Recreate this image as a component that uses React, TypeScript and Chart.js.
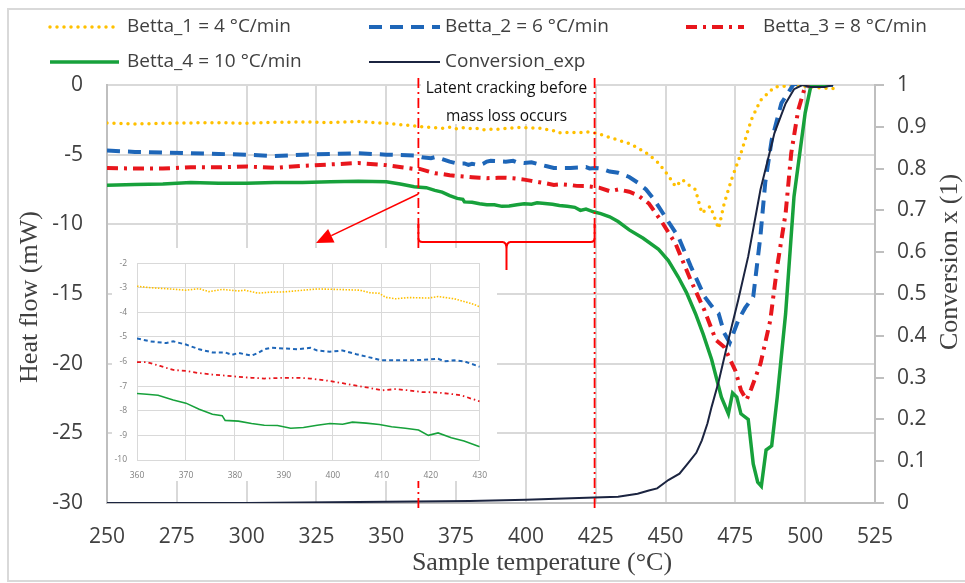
import React, { useEffect, useRef } from 'react';
import { Chart, registerables } from 'chart.js';

Chart.register(...registerables);

// ---------------- DATA ----------------
const seriesLabels = [
  'Betta_1 = 4 °C/min',
  'Betta_2 = 6 °C/min',
  'Betta_3 = 8 °C/min',
  'Betta_4 = 10 °C/min',
  'Conversion_exp',
];

const betta1T = [250, 260, 270, 280, 290, 300, 310, 320, 330, 340, 350,
  360, 362.7, 366, 370, 372.7, 374.7, 377.4, 380.7, 382, 384.7, 387.4, 390, 394, 396.8, 400.8, 405.5, 407.5, 409.5, 410.8, 412.8, 415.5, 419.5, 421.5, 424.8, 428.2, 430,
  433, 437, 440, 444, 447.5, 451, 453.6, 456, 458.5, 460.7, 463, 466, 469, 471, 473.6, 477, 480.7, 484, 489, 495, 500, 505, 510];
const betta1V = [-2.73, -2.8, -2.75, -2.72, -2.7, -2.75, -2.68, -2.65, -2.7, -2.62, -2.75,
  -2.94, -3.0, -3.04, -3.1, -3.04, -3.16, -3.07, -3.13, -3.1, -3.22, -3.18, -3.17, -3.1, -3.05, -3.07, -3.1, -3.2, -3.23, -3.39, -3.45, -3.4, -3.42, -3.36, -3.45, -3.64, -3.77,
  -3.95, -4.2, -4.5, -5.0, -5.6, -6.5, -7.3, -6.8, -7.2, -7.5, -9.2, -8.7, -10.3, -8.5, -6.8, -4.9, -2.5, -1.1, -0.15, -0.05, -0.1, -0.2, -0.25];

const betta2T = [250, 260, 270, 280, 290, 300, 310, 320, 330, 340, 350,
  360, 362.7, 366, 367.4, 370, 372.7, 375.4, 378, 379.4, 380.7, 383.4, 384.7, 386, 387.4, 390, 392.8, 395.4, 396.8, 399.4, 402, 404.8, 407.5, 410, 412.8, 416, 419.5, 421.5, 422.8, 424.8, 426.8, 430,
  433, 437, 440, 443, 446, 450, 454.6, 459, 464, 467, 469, 471, 473, 476, 478.5, 481.4, 484, 485.7, 488, 491.5, 496, 500, 505, 510];
const betta2V = [-4.7, -4.8, -4.85, -4.9, -4.95, -5.0, -5.1, -5.0, -4.95, -4.9, -5.0,
  -5.06, -5.18, -5.25, -5.18, -5.31, -5.5, -5.63, -5.63, -5.73, -5.65, -5.76, -5.65, -5.5, -5.44, -5.47, -5.5, -5.44, -5.55, -5.6, -5.55, -5.7, -5.83, -5.95, -5.95, -5.95, -5.92, -5.89, -5.99, -5.95, -5.99, -6.21,
  -6.3, -6.6, -7.0, -7.5, -8.25, -9.5, -10.9, -13.0, -15.2, -16.0, -16.4, -17.8, -18.5, -16.9, -16.0, -15.2, -10.8, -7.0, -3.95, -1.3, 0.1, -0.05, 0.05, 0];

const betta3T = [250, 260, 270, 280, 290, 300, 310, 320, 330, 340, 350,
  360, 362, 364.7, 367.4, 370, 372.7, 375.4, 378, 380.7, 383.4, 386, 390, 392.8, 395.4, 399.4, 402, 404.8, 407.5, 410, 412.8, 415.5, 418.2, 420.8, 423.5, 426.2, 430,
  433, 437, 440, 444, 448.6, 453.6, 459, 464, 468, 471, 475, 477, 479, 480.7, 484, 487.5, 490, 493, 495, 497.5, 500, 505, 508];
const betta3V = [-5.95, -6.0, -6.0, -5.9, -5.9, -5.85, -5.95, -5.8, -5.7, -5.6, -5.75,
  -6.02, -6.02, -6.18, -6.34, -6.38, -6.47, -6.53, -6.57, -6.62, -6.66, -6.69, -6.66, -6.66, -6.69, -6.79, -6.88, -6.98, -7.07, -7.17, -7.12, -7.17, -7.24, -7.25, -7.3, -7.37, -7.62,
  -7.5, -7.66, -7.9, -8.5, -9.8, -11.4, -14.0, -16.2, -18.3, -18.8, -20.5, -21.9, -22.6, -21.8, -20.0, -16.9, -13.0, -9.2, -4.9, -1.8, -0.1, 0, 0];

const betta4T = [250, 260, 270, 280, 290, 300, 310, 320, 330, 340, 350, 355,
  360, 362, 364.3, 367.4, 370, 372.7, 375.4, 377.4, 378, 380.7, 383.4, 386, 388.7, 391.4, 394, 396.8, 399.4, 402, 404, 406.8, 409.5, 412, 414.8, 417.5, 419.5, 421.5, 424.2, 426.8, 430,
  433, 437, 442, 447.5, 451, 454.6, 457.5, 460.7, 463.5, 466.5, 470, 472.5, 474, 475.5, 477, 479.6, 481.4, 483, 484.3, 486, 488, 490, 493, 496, 500, 502, 505, 508];
const betta4V = [-7.2, -7.15, -7.1, -7.0, -7.05, -7.05, -7.0, -7.0, -6.95, -6.9, -6.95, -7.1,
  -7.3, -7.33, -7.37, -7.56, -7.69, -7.94, -8.14, -8.2, -8.39, -8.42, -8.52, -8.59, -8.6, -8.71, -8.68, -8.59, -8.52, -8.55, -8.46, -8.5, -8.56, -8.65, -8.71, -8.78, -9.0, -8.9, -9.1, -9.23, -9.46,
  -9.8, -10.4, -11.0, -11.8, -12.6, -13.8, -14.9, -16.4, -17.9, -19.7, -22.4, -23.6, -22.1, -22.4, -23.6, -24.0, -27.2, -28.5, -28.8, -26.2, -25.9, -22.4, -16.4, -8.0, -2.0, -0.1, 0, 0];

const conversionT = [250, 300, 350, 380, 400, 419, 433, 440, 444, 447, 451, 455, 458, 461, 463, 465, 466.5, 469, 472.5, 476, 479.6, 484, 489, 493, 496, 499, 502, 507, 510];
const conversionV = [0, 0, 0.003, 0.005, 0.008, 0.012, 0.015, 0.022, 0.03, 0.035, 0.055, 0.07, 0.095, 0.12, 0.15, 0.19, 0.23, 0.29, 0.39, 0.485, 0.59, 0.75, 0.885, 0.956, 0.99, 1.0, 0.995, 0.995, 1.0];

const markerT = [361.5, 424.6];
const noteLines = ['Latent cracking before', 'mass loss occurs'];
const xTitle = 'Sample temperature (°C)';
const yTitle = 'Heat flow (mW)';
const y1Title = 'Conversion x (1)';

// ---------------- STYLES ----------------
const C_YEL = '#FFC000';
const C_BLU = '#1E66B8';
const C_RED = '#E8161C';
const C_GRN = '#17A13B';
const C_NAV = '#1B2440';
const TXT = '#404040';
const GRID = '#D9D9D9';
const AXIS = '#BFBFBF';
const SANS = "'Open Sans', 'DejaVu Sans', sans-serif";
const SERIF = "'Liberation Serif', 'DejaVu Serif', serif";

const pts = (T: number[], V: number[], lo = -Infinity, hi = Infinity) =>
  T.map((t, i) => ({ x: t, y: V[i] })).filter((p) => p.x >= lo && p.x <= hi);

const mainStyles = [
  { borderColor: C_YEL, borderWidth: 3.5, borderDash: [0, 7], borderCapStyle: 'round' },
  { borderColor: C_BLU, borderWidth: 4, borderDash: [13, 8], borderCapStyle: 'butt' },
  { borderColor: C_RED, borderWidth: 4, borderDash: [11, 6, 3, 6], borderCapStyle: 'butt' },
  { borderColor: C_GRN, borderWidth: 3.5, borderDash: [], borderCapStyle: 'butt' },
  { borderColor: C_NAV, borderWidth: 2, borderDash: [], borderCapStyle: 'butt' },
];

const legendPos = [
  { x1: 50, x2: 116, y: 27, tx: 127 },
  { x1: 369, x2: 440, y: 27, tx: 445 },
  { x1: 686, x2: 744, y: 27, tx: 763 },
  { x1: 50, x2: 119, y: 62, tx: 127 },
  { x1: 369, x2: 440, y: 62, tx: 445 },
];

const decorPlugin = {
  id: 'decor',
  beforeDatasetsDraw(chart: any) {
    const ctx = chart.ctx;
    ctx.save();
    ctx.fillStyle = '#ffffff';
    ctx.fillRect(421, 76, 173, 48);
    ctx.restore();
  },
  afterDatasetsDraw(chart: any) {
    const ctx = chart.ctx;
    const xs = chart.scales.x;
    ctx.save();
    // vertical dash-dot markers
    ctx.strokeStyle = '#FF0000';
    ctx.lineWidth = 1.8;
    ctx.setLineDash([10, 4, 2, 4]);
    markerT.forEach((t) => {
      const px = xs.getPixelForValue(t);
      ctx.beginPath();
      ctx.moveTo(px, 78);
      ctx.lineTo(px, 511);
      ctx.stroke();
    });
    ctx.setLineDash([]);
    // brace
    const l = xs.getPixelForValue(markerT[0]);
    const r = xs.getPixelForValue(markerT[1]);
    const m = (l + r) / 2;
    ctx.lineWidth = 2;
    ctx.beginPath();
    ctx.moveTo(l, 224);
    ctx.lineTo(l, 238);
    ctx.quadraticCurveTo(l, 242, l + 4, 242);
    ctx.lineTo(m - 4, 242);
    ctx.quadraticCurveTo(m, 242, m, 249);
    ctx.lineTo(m, 270);
    ctx.moveTo(m, 249);
    ctx.quadraticCurveTo(m, 242, m + 4, 242);
    ctx.lineTo(r - 4, 242);
    ctx.quadraticCurveTo(r, 242, r, 238);
    ctx.lineTo(r, 224);
    ctx.stroke();
    // arrow
    const sx = l, sy = 194, ex = 316, ey = 243;
    const ang = Math.atan2(ey - sy, ex - sx);
    const hl = 17, hw = 7.5;
    const bx = ex - hl * Math.cos(ang), by = ey - hl * Math.sin(ang);
    ctx.lineWidth = 1.5;
    ctx.beginPath();
    ctx.moveTo(sx, sy);
    ctx.lineTo(bx, by);
    ctx.stroke();
    ctx.fillStyle = '#FF0000';
    ctx.beginPath();
    ctx.moveTo(ex, ey);
    ctx.lineTo(bx + hw * Math.sin(ang), by - hw * Math.cos(ang));
    ctx.lineTo(bx - hw * Math.sin(ang), by + hw * Math.cos(ang));
    ctx.closePath();
    ctx.fill();
    // note text
    ctx.fillStyle = '#111111';
    ctx.font = `15.5px ${SANS}`;
    ctx.textAlign = 'center';
    ctx.textBaseline = 'middle';
    ctx.fillText(noteLines[0], m, 89);
    ctx.fillText(noteLines[1], m, 117);
    ctx.restore();
  },
  afterDraw(chart: any) {
    const ctx = chart.ctx;
    ctx.save();
    // legend
    chart.data.datasets.forEach((ds: any, i: number) => {
      const p = legendPos[i];
      ctx.strokeStyle = ds.borderColor;
      ctx.lineWidth = ds.borderWidth;
      ctx.setLineDash(ds.borderDash || []);
      ctx.lineCap = ds.borderCapStyle || 'butt';
      ctx.beginPath();
      ctx.moveTo(p.x1, p.y);
      ctx.lineTo(p.x2, p.y);
      ctx.stroke();
      ctx.setLineDash([]);
      ctx.lineCap = 'butt';
      ctx.fillStyle = TXT;
      ctx.font = `19px ${SANS}`;
      ctx.textAlign = 'left';
      ctx.textBaseline = 'middle';
      ctx.fillText(ds.label, p.tx, p.y);
    });
    // axis titles
    ctx.fillStyle = TXT;
    ctx.font = `26px ${SERIF}`;
    ctx.textAlign = 'center';
    ctx.textBaseline = 'middle';
    ctx.fillText(xTitle, 542, 563);
    ctx.save();
    ctx.translate(30, 297);
    ctx.rotate(-Math.PI / 2);
    ctx.fillText(yTitle, 0, 0);
    ctx.restore();
    ctx.save();
    ctx.translate(950, 262);
    ctx.rotate(-Math.PI / 2);
    ctx.fillText(y1Title, 0, 0);
    ctx.restore();
    // outer frame
    ctx.strokeStyle = GRID;
    ctx.lineWidth = 2;
    ctx.beginPath();
    ctx.moveTo(968, 9);
    ctx.lineTo(8, 9);
    ctx.lineTo(8, 581);
    ctx.lineTo(968, 581);
    ctx.stroke();
    ctx.restore();
  },
};

const tickFont = { family: SANS, size: 21 };

export default function App() {
  const mainRef = useRef<HTMLCanvasElement | null>(null);
  const insetRef = useRef<HTMLCanvasElement | null>(null);

  useEffect(() => {
    const seriesT = [betta1T, betta2T, betta3T, betta4T, conversionT];
    const seriesV = [betta1V, betta2V, betta3V, betta4V, conversionV];

    const mainDatasets = seriesT.map((T, i) => ({
      label: seriesLabels[i],
      data: pts(T, seriesV[i]),
      ...mainStyles[i],
      pointRadius: 0,
      tension: 0,
      fill: false,
      yAxisID: i === 4 ? 'y1' : 'y',
      order: 5 - i,
    }));

    const main = new Chart(mainRef.current as HTMLCanvasElement, {
      type: 'line',
      data: { datasets: mainDatasets as any },
      options: {
        animation: false,
        responsive: false,
        events: [],
        layout: { padding: { top: 85, left: 0, right: 0, bottom: 0 } },
        plugins: { legend: { display: false }, tooltip: { enabled: false } },
        scales: {
          x: {
            type: 'linear', min: 250, max: 525,
            ticks: { stepSize: 25, padding: 21, color: TXT, font: tickFont },
            grid: { color: GRID, lineWidth: 2, drawTicks: false },
            border: { display: true, color: AXIS, width: 2 },
            afterFit: (s: any) => { s.height = 80; },
          },
          y: {
            type: 'linear', position: 'left', min: -30, max: 0,
            ticks: { stepSize: 5, padding: 24, color: TXT, font: tickFont },
            grid: { color: GRID, lineWidth: 2, drawTicks: false },
            border: { display: true, color: AXIS, width: 2 },
            afterFit: (s: any) => { s.width = 107; },
          },
          y1: {
            type: 'linear', position: 'right', min: 0, max: 1,
            ticks: {
              stepSize: 0.1, padding: 13, color: TXT, font: tickFont,
              callback: (v: any) => String(Number(Number(v).toFixed(1))),
            },
            grid: { drawOnChartArea: false, drawTicks: true, tickLength: 9, color: AXIS, lineWidth: 2 },
            border: { display: true, color: AXIS, width: 2 },
            afterFit: (s: any) => { s.width = 90; },
          },
        },
      } as any,
      plugins: [decorPlugin],
    });

    const insetStyles = [
      { borderColor: C_YEL, borderWidth: 1.6, borderDash: [1.5, 1.5] },
      { borderColor: C_BLU, borderWidth: 2, borderDash: [4, 3] },
      { borderColor: C_RED, borderWidth: 1.8, borderDash: [4, 3, 1.5, 3] },
      { borderColor: C_GRN, borderWidth: 1.6, borderDash: [] },
    ];
    const insetDatasets = [0, 1, 2, 3].map((i) => ({
      label: seriesLabels[i],
      data: pts(seriesT[i], seriesV[i], 360, 430),
      ...insetStyles[i],
      pointRadius: 0,
      tension: 0,
      fill: false,
    }));
    const insetFont = { family: SANS, size: 8.5 };
    const inset = new Chart(insetRef.current as HTMLCanvasElement, {
      type: 'line',
      data: { datasets: insetDatasets as any },
      options: {
        animation: false,
        responsive: false,
        events: [],
        layout: { padding: { top: 4, right: 11, left: 0, bottom: 0 } },
        plugins: { legend: { display: false }, tooltip: { enabled: false } },
        scales: {
          x: {
            type: 'linear', min: 360, max: 430,
            ticks: { stepSize: 10, padding: 10, color: '#7F7F7F', font: insetFont },
            grid: { color: GRID, lineWidth: 1, drawTicks: false },
            border: { display: false },
            afterFit: (s: any) => { s.height = 21; },
          },
          y: {
            type: 'linear', min: -10, max: -2,
            ticks: { stepSize: 1, padding: 10, color: '#7F7F7F', font: insetFont },
            grid: { color: GRID, lineWidth: 1, drawTicks: false },
            border: { display: false },
            afterFit: (s: any) => { s.width = 25; },
          },
        },
      } as any,
    });

    return () => {
      main.destroy();
      inset.destroy();
    };
  }, []);

  return (
    <div style={{ position: 'absolute', left: 0, top: 0, width: 965, height: 583, background: '#ffffff', overflow: 'hidden' }}>
      <canvas ref={mainRef} width={965} height={583} style={{ position: 'absolute', left: 0, top: 0, width: 965, height: 583 }} />
      <div style={{ position: 'absolute', left: 112, top: 248, width: 385, height: 233, background: '#ffffff' }}>
        <canvas ref={insetRef} width={385} height={233} style={{ width: 385, height: 233, display: 'block' }} />
      </div>
    </div>
  );
}
